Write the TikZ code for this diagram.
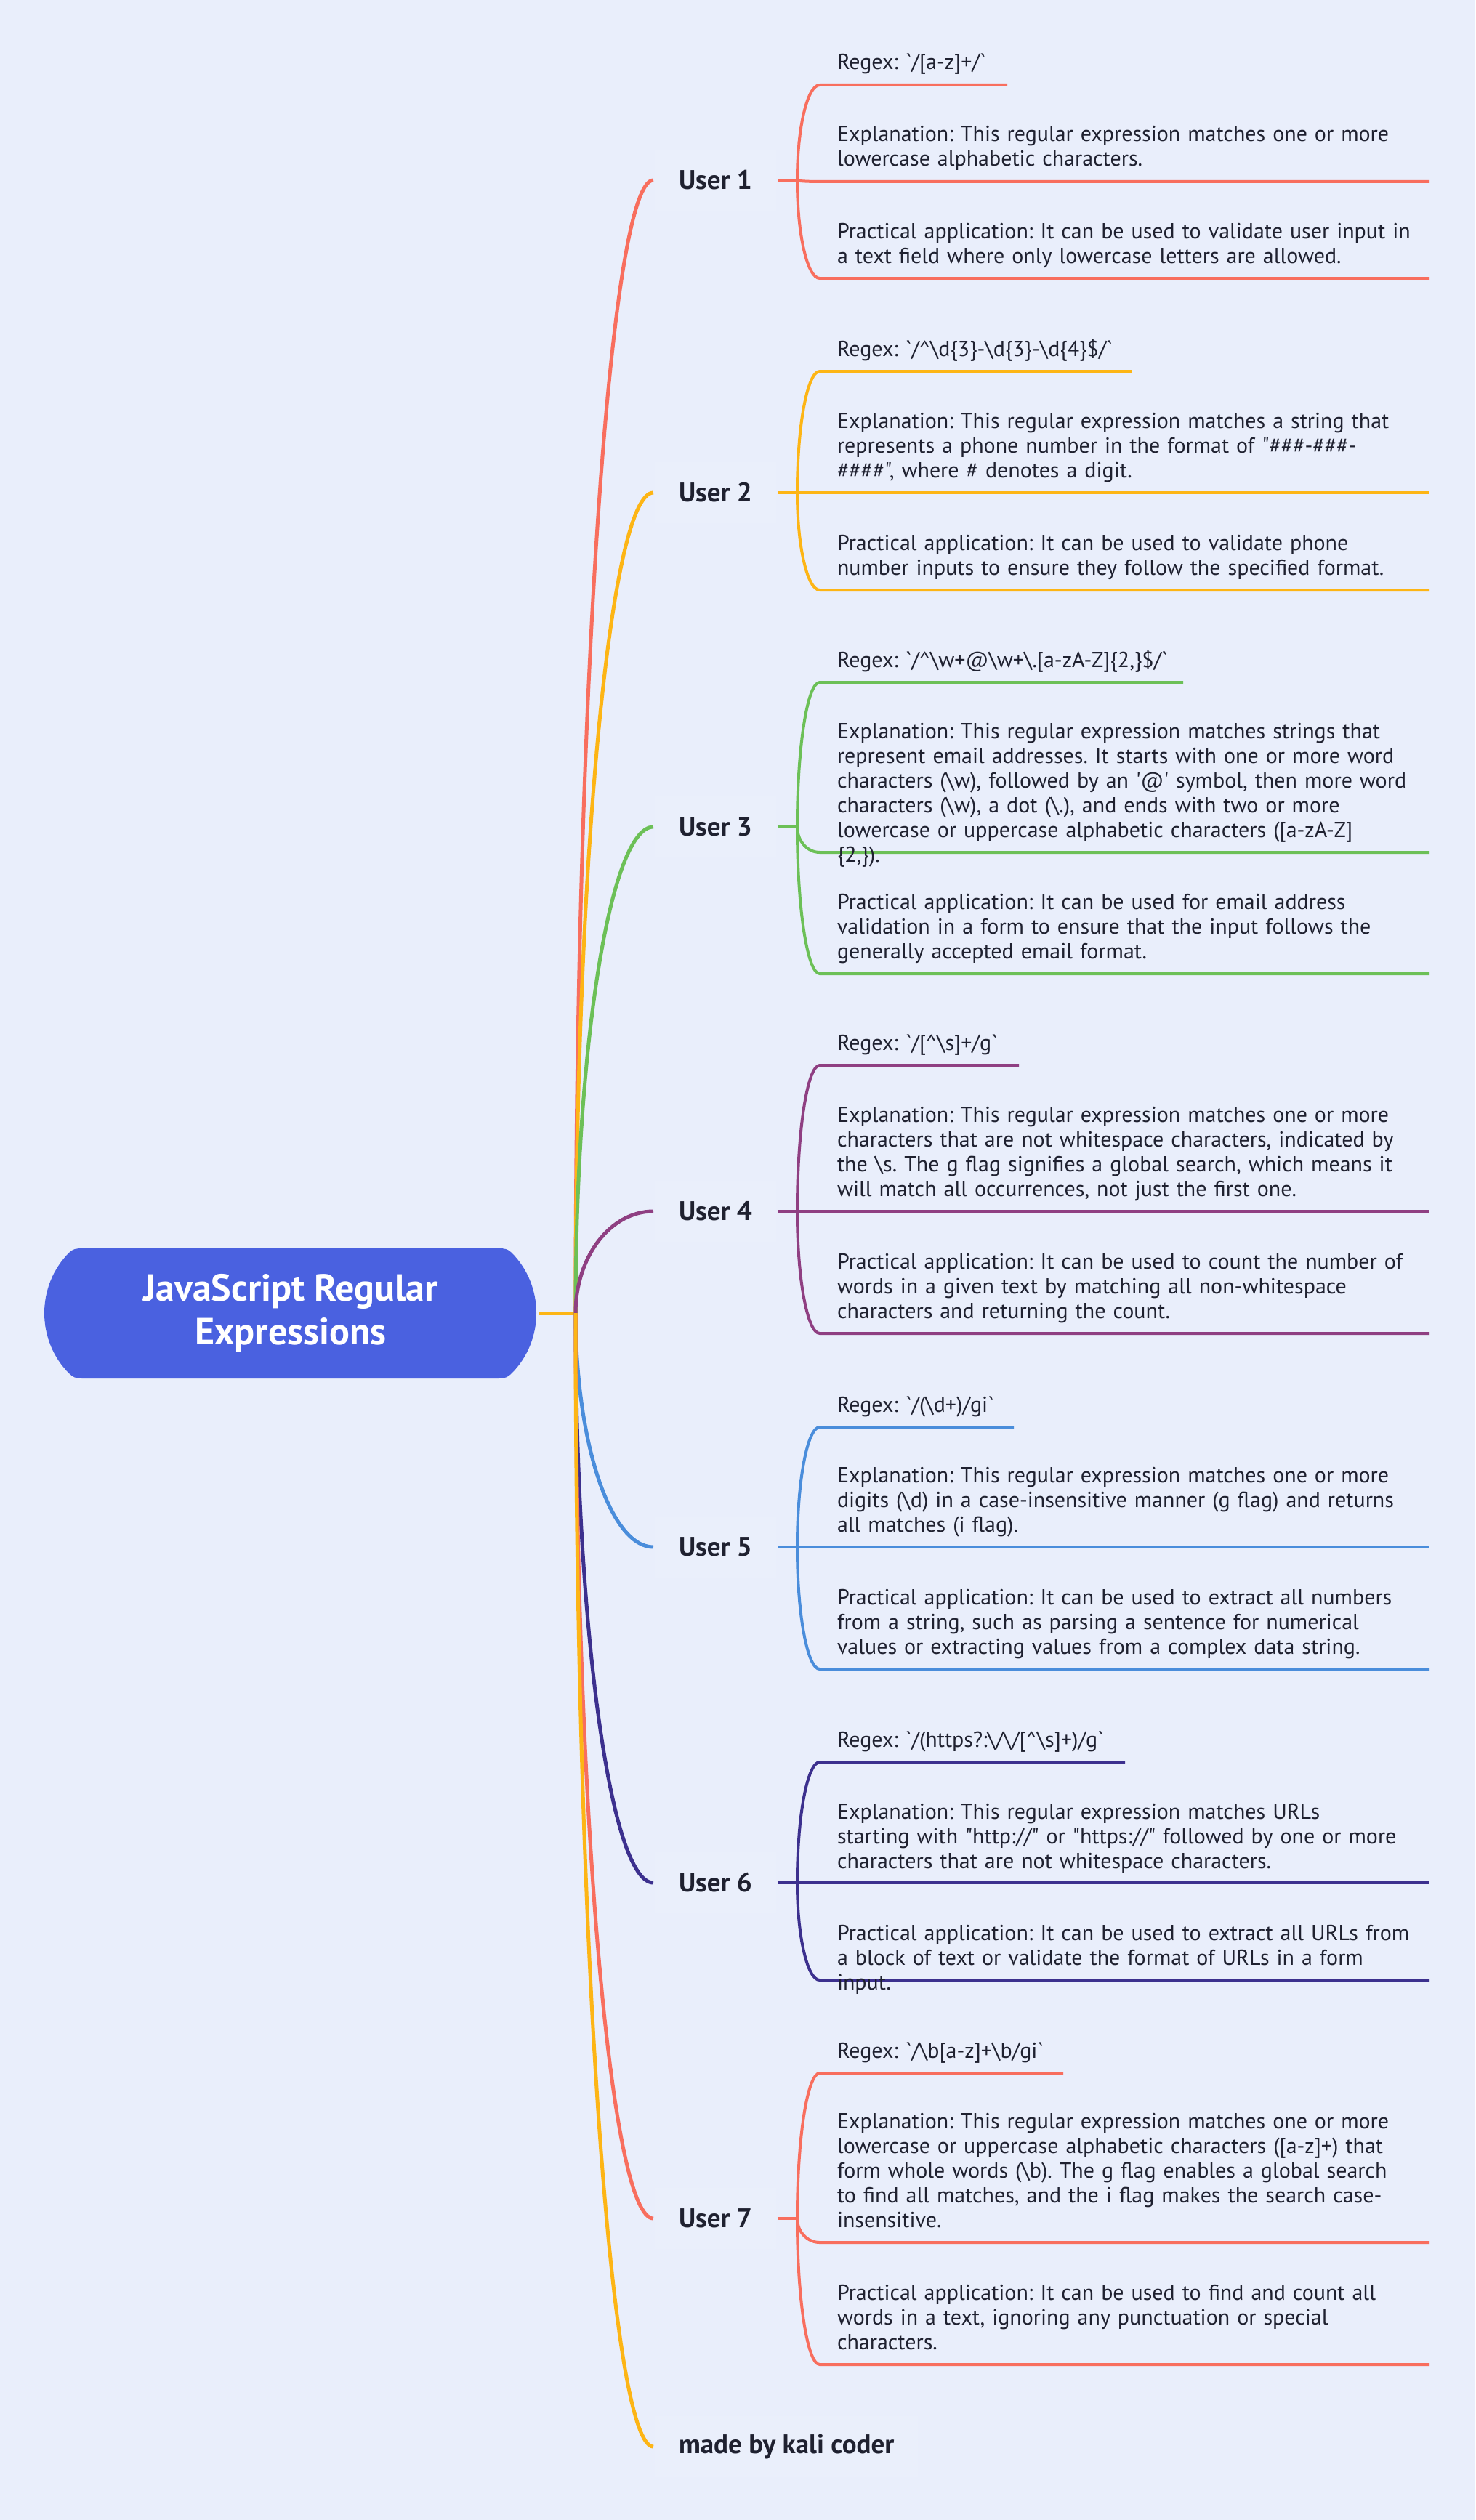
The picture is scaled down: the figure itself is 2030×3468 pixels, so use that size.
\documentclass[tikz,border=0pt]{standalone}
\usepackage{fontspec}
\setmainfont{PT Sans}[Ligatures=TeXOff]
\usepackage{tikz}
\usetikzlibrary{calc,positioning}
\frenchspacing

\definecolor{bg}{HTML}{E9EEFB}
\definecolor{userbg}{HTML}{EAEFFB}
\definecolor{rootc}{HTML}{4A61E0}
\definecolor{textc}{HTML}{1F2130}
\definecolor{c1}{HTML}{F86E5E}
\definecolor{c2}{HTML}{FDB515}
\definecolor{c3}{HTML}{6CC057}
\definecolor{c4}{HTML}{8F3F82}
\definecolor{c5}{HTML}{4A8DDB}
\definecolor{c6}{HTML}{3C308E}
\colorlet{c7}{c1}

\begin{document}
\begin{tikzpicture}[x=1pt,y=-1pt,line width=4pt,
    branch/.style={to path={.. controls ($(\tikztostart)!0.552!(\tikztostart|-\tikztotarget)$) and ($(\tikztotarget)!0.552!(\tikztostart|-\tikztotarget)$) .. (\tikztotarget)}},
    user/.style={fill=userbg, inner xsep=33pt, minimum height=84pt, text=textc, font=\fontsize{37}{40}\selectfont\bfseries},
    leaf/.style={anchor=base west, inner sep=0pt, text width=900pt, align=left, text=textc, font=\fontsize{30}{34}\selectfont}]
    % Background
    \fill[bg] (0,0) rectangle (2030,3468);
    \useasboundingbox (0,0) rectangle (2030,3468);

    % Root
    \fill[rootc] (113,1718) -- (686,1718) .. controls (695,1718) and (699,1719) .. (704,1724)
        .. controls (726,1746) and (738,1776) .. (738,1807) .. controls (738,1838) and (726,1868) .. (704,1890)
        .. controls (699,1895) and (695,1897) .. (686,1897) -- (113,1897)
        .. controls (104,1897) and (100,1895) .. (95,1890) .. controls (73,1868) and (61,1838) .. (61,1807)
        .. controls (61,1776) and (73,1746) .. (95,1724) .. controls (100,1719) and (104,1718) .. (113,1718);
    \node[minimum width=677pt, minimum height=179pt, inner sep=0pt, align=center, text=white,
        font=\fontsize{52}{60}\selectfont\bfseries] (root) at (400,1807) {JavaScript Regular\\Expressions};
    \coordinate (jn) at (792,1807);
    \draw[c2, line width=5pt] (root.east) -- (jn);

    % Users
    \foreach \i/\y in {1/248,2/678,3/1138,4/1667,5/2129,6/2591,7/3053} {
        \node[user, anchor=west] (u\i) at (899,\y) {User \i};
        \coordinate (j\i) at (1097,\y);
        \draw[c\i, line width=5pt] (jn) to[branch] (u\i.west);
        \draw[c\i] (u\i.east) -- (j\i);
    }
    \node[user, anchor=west] (made) at (899,3367) {made by kali coder};
    \draw[c2, line width=5pt] (jn) to[branch] (made.west);

    % Underlines
    \foreach \u/\k/\L/\xe in {1/r/117/1386, 1/e/250/1967, 1/p/383/1967,
        2/r/511/1557, 2/e/678/1967, 2/p/812/1967,
        3/r/939/1628, 3/e/1173/1967, 3/p/1340/1967,
        4/r/1466/1402, 4/e/1667/1967, 4/p/1835/1967,
        5/r/1964/1395, 5/e/2129/1967, 5/p/2297/1967,
        6/r/2425/1548, 6/e/2591/1967, 6/p/2725/1967,
        7/r/2853/1463, 7/e/3086/1967, 7/p/3254/1967} {
        \coordinate (\k\u s) at (1128,\L);
        \draw[c\u] (j\u) to[branch] (\k\u s) -- (\xe,\L);
    }

    % User 1
    \node[leaf] (r1) at (1150,96) {Regex: `/[a-z]+/`};
    \node[leaf] (e1) at (1150,195) {Explanation: This regular expression matches one or more\\lowercase alphabetic characters.};
    \node[leaf] (p1) at (1150,328) {Practical application: It can be used to validate user input in\\a text field where only lowercase letters are allowed.};

    % User 2
    \node[leaf] (r2) at (1150,490) {Regex: `/\textasciicircum\textbackslash d\{3\}-\textbackslash d\{3\}-\textbackslash d\{4\}\$/`};
    \node[leaf] (e2) at (1150,589) {Explanation: This regular expression matches a string that\\represents a phone number in the format of "\#\#\#-\#\#\#-\\\#\#\#\#", where \# denotes a digit.};
    \node[leaf] (p2) at (1150,757) {Practical application: It can be used to validate phone\\number inputs to ensure they follow the specified format.};

    % User 3
    \node[leaf] (r3) at (1150,918) {Regex: `/\textasciicircum\textbackslash w+@\textbackslash w+\textbackslash .[a-zA-Z]\{2,\}\$/`};
    \node[leaf] (e3) at (1150,1016) {Explanation: This regular expression matches strings that\\represent email addresses. It starts with one or more word\\characters (\textbackslash w), followed by an '@' symbol, then more word\\characters (\textbackslash w), a dot (\textbackslash .), and ends with two or more\\lowercase or uppercase alphabetic characters ([a-zA-Z]\\\{2,\}).};
    \node[leaf] (p3) at (1150,1251) {Practical application: It can be used for email address\\validation in a form to ensure that the input follows the\\generally accepted email format.};

    % User 4
    \node[leaf] (r4) at (1150,1445) {Regex: `/[\textasciicircum\textbackslash s]+/g`};
    \node[leaf] (e4) at (1150,1544) {Explanation: This regular expression matches one or more\\characters that are not whitespace characters, indicated by\\the \textbackslash s. The g flag signifies a global search, which means it\\will match all occurrences, not just the first one.};
    \node[leaf] (p4) at (1150,1746) {Practical application: It can be used to count the number of\\words in a given text by matching all non-whitespace\\characters and returning the count.};

    % User 5
    \node[leaf] (r5) at (1150,1943) {Regex: `/(\textbackslash d+)/gi`};
    \node[leaf] (e5) at (1150,2040) {Explanation: This regular expression matches one or more\\digits (\textbackslash d) in a case-insensitive manner (g flag) and returns\\all matches (i flag).};
    \node[leaf] (p5) at (1150,2208) {Practical application: It can be used to extract all numbers\\from a string, such as parsing a sentence for numerical\\values or extracting values from a complex data string.};

    % User 6
    \node[leaf] (r6) at (1150,2404) {Regex: `/(https?:\textbackslash/\textbackslash/[\textasciicircum\textbackslash s]+)/g`};
    \node[leaf] (e6) at (1150,2503) {Explanation: This regular expression matches URLs\\starting with "http://" or "https://" followed by one or more\\characters that are not whitespace characters.};
    \node[leaf] (p6) at (1150,2670) {Practical application: It can be used to extract all URLs from\\a block of text or validate the format of URLs in a form\\input.};

    % User 7
    \node[leaf] (r7) at (1150,2832) {Regex: `/\textbackslash b[a-z]+\textbackslash b/gi`};
    \node[leaf] (e7) at (1150,2929) {Explanation: This regular expression matches one or more\\lowercase or uppercase alphabetic characters ([a-z]+) that\\form whole words (\textbackslash b). The g flag enables a global search\\to find all matches, and the i flag makes the search case-\\insensitive.};
    \node[leaf] (p7) at (1150,3165) {Practical application: It can be used to find and count all\\words in a text, ignoring any punctuation or special\\characters.};
\end{tikzpicture}
\end{document}
